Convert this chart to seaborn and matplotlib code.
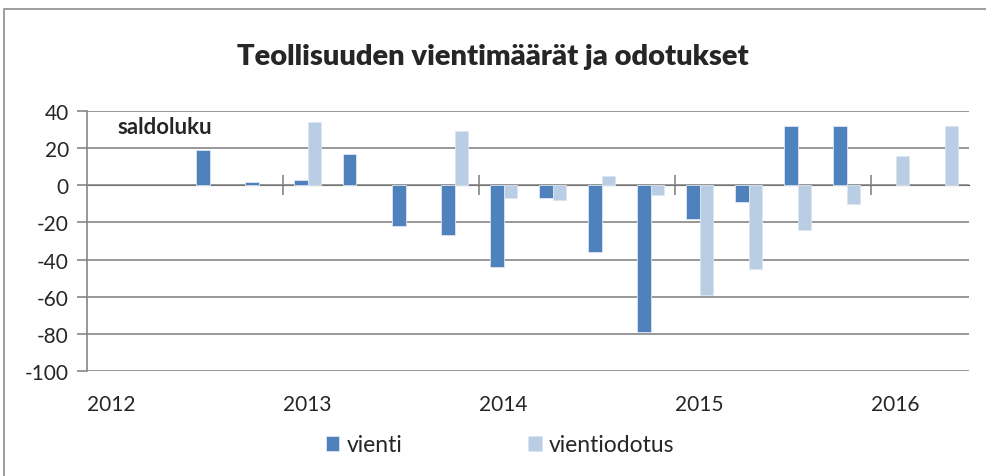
import numpy as np
import pandas as pd
import matplotlib
matplotlib.use('Agg')
import matplotlib.pyplot as plt
import seaborn as sns
from matplotlib.patches import Rectangle

# quarterly balance figures (saldoluku), 2012Q1 - 2016Q2
quarters = ['2012Q1', '2012Q2', '2012Q3', '2012Q4',
            '2013Q1', '2013Q2', '2013Q3', '2013Q4',
            '2014Q1', '2014Q2', '2014Q3', '2014Q4',
            '2015Q1', '2015Q2', '2015Q3', '2015Q4',
            '2016Q1', '2016Q2']
vienti = [np.nan, np.nan, 19, 2, 3, 17, -22, -27, -44, -7, -36, -79,
          -18, -9, 32, 32, np.nan, np.nan]
vientiodotus = [np.nan, np.nan, np.nan, np.nan, 34, np.nan, np.nan, 29, -7, -8, 5, -5,
                -59, -45, -24, -10, 16, 32]
year_labels = ['2012', '2013', '2014', '2015', '2016']

df = pd.DataFrame({'kvartaali': quarters * 2,
                   'arvo': vienti + vientiodotus,
                   'sarja': ['vienti'] * len(quarters) + ['vientiodotus'] * len(quarters)})

sns.set_style('white')
plt.rcParams['font.family'] = ['Lato', 'DejaVu Sans']
plt.rcParams['axes.unicode_minus'] = False

grid_col = '#868686'
fig = plt.figure(figsize=(9.86, 4.77), dpi=100)
ax = fig.add_axes([87 / 986, 1 - 372 / 477, (969 - 87) / 986, (372 - 112) / 477])

sns.barplot(data=df, x='kvartaali', y='arvo', hue='sarja', order=quarters,
            hue_order=['vienti', 'vientiodotus'],
            palette=['#4F81BD', '#B9CDE5'], saturation=1, width=0.545, errorbar=None,
            edgecolor='#DCE6F2', linewidth=0.6, ax=ax, zorder=3)

ax.set_ylim(-100, 40)
ax.set_xlim(-0.5, len(quarters) - 0.5)
ax.set_yticks(range(-100, 41, 20))
ax.yaxis.grid(True, color=grid_col, linewidth=1.2, zorder=1)
ax.set_axisbelow(True)
ax.set_xlabel('')
ax.set_ylabel('')

for s in ['top', 'right', 'bottom']:
    ax.spines[s].set_visible(False)
ax.spines['left'].set_color(grid_col)
ax.spines['left'].set_linewidth(1.2)
ax.tick_params(axis='y', left=True, length=7, width=1.2, color=grid_col,
               labelsize=15, pad=6)

ax.set_xticks(range(0, len(quarters), 4))
ax.set_xticklabels(year_labels)
ax.tick_params(axis='x', bottom=False, labelsize=15, pad=13)

# year separators on the zero line
sec = ax.secondary_xaxis(100 / 140)
sec.set_xticks([3.5, 7.5, 11.5, 15.5])
sec.set_xticklabels([])
sec.spines['bottom'].set_visible(False)
sec.tick_params(direction='inout', length=15, width=1.2, color=grid_col)

ax.text(0.035, 0.94, 'saldoluku', transform=ax.transAxes, fontsize=16,
        fontweight='bold', va='center', ha='left')
fig.text(0.5, 1 - 57 / 477, 'Teollisuuden vientimäärät ja odotukset',
         ha='center', va='center', fontsize=21, fontweight='heavy')

handles, labels = ax.get_legend_handles_labels()
ax.get_legend().remove()
fig.legend(handles, labels, loc='center', bbox_to_anchor=(500 / 986, 1 - 446 / 477),
           ncol=2, frameon=False, fontsize=16.5, handlelength=0.6, handleheight=0.6,
           handletextpad=0.3, columnspacing=5.5)

fig.patches.append(Rectangle((4 / 986, -0.1), 1.2, 1.1 - 10 / 477,
                             transform=fig.transFigure, fill=False,
                             edgecolor='#8C8C8C', linewidth=1.2))

fig.savefig('out.png', dpi=100, facecolor='white')
